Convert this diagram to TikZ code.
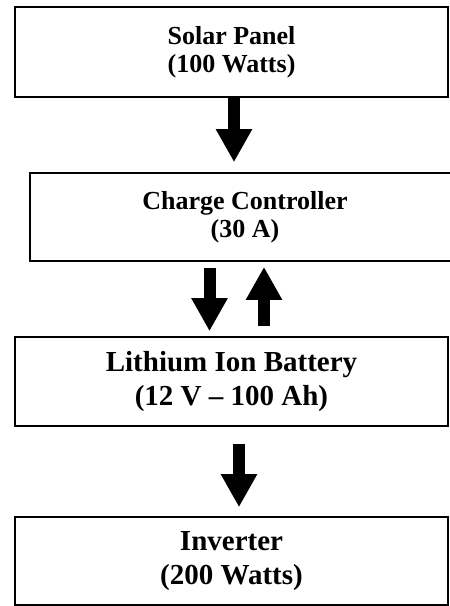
\documentclass[tikz,border=0pt]{standalone}
\usepackage{fontspec}
\setmainfont{Liberation Serif}
\usetikzlibrary{positioning, arrows.meta}

\begin{document}
\begin{tikzpicture}[x=1pt, y=-1pt]

        % Block definitions
        \tikzstyle{block} = [draw, line width=1.6pt, rectangle, minimum width=433pt, inner sep=0pt, align=center, fill=white, font=\bfseries]
        \tikzstyle{small} = [font=\bfseries\fontsize{26}{28}\selectfont]
        \tikzstyle{large} = [font=\bfseries\fontsize{29}{34}\selectfont]
        \tikzstyle{fat} = [line width=12pt, -{Triangle[width=34pt, length=33pt]}]

        \useasboundingbox (0,0) rectangle (450,606);

        % Blocks
        \node[block, small, minimum height=90pt] (panel) at (231.5,52) {Solar Panel\\(100 Watts)};
        \node[block, small, minimum width=430pt, minimum height=88pt] (ctrl) at (245,217) {Charge Controller\\(30 A)};
        \node[block, large, minimum height=89pt] (batt) at (231.5,381.5) {Lithium Ion Battery\\(12 V -- 100 Ah)};
        \node[block, large, minimum height=88pt] (inv) at (231.5,561) {Inverter\\(200 Watts)};

        % Arrows
        \draw[fat, shorten >=10pt] ([xshift=2.5pt]panel.south) -- ([xshift=-11pt]ctrl.north);
        \draw[fat, shorten <=6pt, shorten >=5pt] ([xshift=-35.5pt]ctrl.south) -- ([xshift=-22pt]batt.north);
        \draw[fat, shorten <=10pt, shorten >=5pt] ([xshift=32.5pt]batt.north) -- ([xshift=19pt]ctrl.south);
        \draw[fat, shorten <=17pt, shorten >=9pt] ([xshift=7.5pt]batt.south) -- ([xshift=7.5pt]inv.north);

\end{tikzpicture}
\end{document}
